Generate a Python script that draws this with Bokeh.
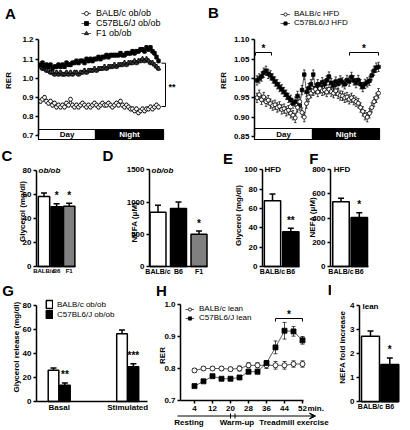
import numpy as np
from bokeh.plotting import figure
from bokeh.layouts import row, column
from bokeh.models import (Label, Legend, LegendItem, Whisker, TeeHead, ColumnDataSource,
                          FixedTicker, Range1d, Arrow, VeeHead, NumeralTickFormatter)
from bokeh.core.properties import value
from bokeh.embed import file_html
from bokeh.resources import INLINE

FONT = "Liberation Sans"

# ---------------- data ----------------
A_C57 = [1.07, 1.08, 1.06, 1.07, 1.06, 1.07, 1.05, 1.06, 1.06, 1.07,
         1.06, 1.07, 1.06, 1.08, 1.07, 1.07, 1.08, 1.08, 1.09, 1.08,
         1.09, 1.09, 1.08, 1.10, 1.09, 1.10, 1.09, 1.10, 1.10, 1.11,
         1.10, 1.11, 1.11, 1.12, 1.11, 1.12, 1.12, 1.12, 1.12, 1.12,
         1.13, 1.12, 1.12, 1.13, 1.13, 1.13, 1.14, 1.13, 1.14, 1.14,
         1.15, 1.15, 1.14, 1.16, 1.15, 1.16, 1.14, 1.13, 1.11, 1.09]
A_F1 = [1.06, 1.05, 1.05, 1.04, 1.04, 1.03, 1.03, 1.02, 1.03, 1.02,
        1.03, 1.02, 1.02, 1.03, 1.02, 1.03, 1.02, 1.03, 1.03, 1.02,
        1.03, 1.03, 1.04, 1.03, 1.04, 1.04, 1.04, 1.05, 1.04, 1.05,
        1.05, 1.05, 1.06, 1.05, 1.06, 1.06, 1.06, 1.07, 1.06, 1.07,
        1.07, 1.07, 1.08, 1.07, 1.08, 1.08, 1.08, 1.09, 1.08, 1.09,
        1.09, 1.10, 1.09, 1.10, 1.09, 1.08, 1.08, 1.07, 1.06, 1.05]
A_BALB = [0.88, 0.89, 0.90, 0.88, 0.87, 0.88, 0.86, 0.87, 0.85, 0.86,
          0.85, 0.86, 0.85, 0.87, 0.86, 0.89, 0.86, 0.85, 0.86, 0.85,
          0.86, 0.87, 0.86, 0.85, 0.86, 0.85, 0.86, 0.87, 0.86, 0.85,
          0.86, 0.87, 0.86, 0.86, 0.87, 0.86, 0.85, 0.86, 0.87, 0.86,
          0.88, 0.86, 0.85, 0.86, 0.85, 0.84, 0.84, 0.83, 0.84, 0.82,
          0.83, 0.84, 0.83, 0.84, 0.84, 0.85, 0.84, 0.85, 0.86, 0.85]
A_ERR = 0.01
A_DAY_END = 11.4
A_HOURS = 25.0
A_YTICKS = [0.7, 0.8, 0.9, 1.0, 1.1, 1.2]

B_C57 = [0.995, 1.000, 1.005, 1.015, 1.020, 1.012, 1.008, 1.000, 0.992, 0.985,
         0.978, 0.972, 0.965, 0.958, 0.950, 0.945, 0.935, 0.940, 0.955, 0.930,
         0.970, 1.010, 0.965, 0.975, 0.985, 1.010, 0.975, 0.985, 0.978, 0.990,
         0.985, 0.995, 1.005, 0.988, 0.982, 0.992, 0.986, 0.995, 0.990, 0.985,
         0.996, 0.992, 1.004, 0.995, 0.988, 0.996, 0.985, 0.978, 0.986, 0.990,
         0.994, 1.008, 1.020, 1.028, 1.030]
B_BALB = [0.950, 0.958, 0.945, 0.952, 0.940, 0.944, 0.935, 0.930, 0.932, 0.925,
          0.928, 0.920, 0.922, 0.915, 0.918, 0.910, 0.905, 0.898, 0.925, 0.940,
          0.912, 0.900, 0.935, 0.952, 0.962, 0.968, 0.972, 0.965, 0.974, 0.968,
          0.970, 0.965, 0.972, 0.966, 0.962, 0.968, 0.960, 0.956, 0.955, 0.950,
          0.952, 0.946, 0.950, 0.944, 0.940, 0.936, 0.925, 0.915, 0.905, 0.900,
          0.910, 0.925, 0.940, 0.950, 0.962]
B_ERR = 0.012
B_DAY_END = 11.6
B_HOURS = 25.0
B_SIG = [(0.2, 3.4), (19.0, 24.8)]
B_YTICKS = [0.85, 0.90, 0.95, 1.00, 1.05, 1.10]

CAT3 = ["BALB/c", "B6", "F1"]
CAT2 = ["BALB/c", "B6"]
C_VALS = [58, 49.5, 50]
C_ERR = [3, 2.5, 2.5]
C_SIG = ["", "*", "*"]
D_VALS = [840, 900, 500]
D_ERR = [110, 100, 50]
D_SIG = ["", "", "*"]
E_VALS = [68, 36]
E_ERR = [7, 3.5]
E_SIG = ["", "**"]
F_VALS = [535, 405]
F_ERR = [30, 40]
F_SIG = ["", "*"]

G_GROUPS = ["Basal", "Stimulated"]
G_BALB = [26, 56.5]
G_BALB_ERR = [2, 3]
G_C57 = [13.5, 29]
G_C57_ERR = [2, 2.5]
G_SIG = ["**", "***"]

H_MIN = [4, 8, 12, 16, 20, 24, 28, 32, 36, 40, 44, 48, 52]
H_BALB = [0.794, 0.800, 0.800, 0.800, 0.798, 0.800, 0.810, 0.810, 0.810, 0.810, 0.810, 0.814, 0.814]
H_BALB_ERR = [0.006, 0.006, 0.006, 0.006, 0.006, 0.008, 0.008, 0.008, 0.010, 0.012, 0.012, 0.010, 0.010]
H_C57 = [0.745, 0.760, 0.776, 0.768, 0.768, 0.772, 0.790, 0.790, 0.817, 0.866, 0.918, 0.916, 0.888]
H_C57_ERR = [0.004, 0.004, 0.004, 0.004, 0.004, 0.004, 0.006, 0.006, 0.008, 0.020, 0.026, 0.015, 0.012]
H_XTICKS = [4, 12, 20, 28, 36, 44, 52]
H_SIG = (40, 52)
H_WARMUP = [20, 22]

I_VALS = [2.72, 1.55]
I_ERR = [0.22, 0.27]
I_SIG = ["", "*"]


# ---------------- helpers ----------------
def style_axis(ax, tick_out=3, size=8):
    ax.axis_line_width = 1.5
    ax.axis_line_color = "black"
    ax.major_tick_line_width = 1.5
    ax.major_tick_line_color = "black"
    ax.major_tick_out = tick_out
    ax.major_tick_in = 0
    ax.minor_tick_line_color = None
    ax.minor_tick_out = 0
    ax.minor_tick_in = 0
    ax.major_label_text_font = FONT
    ax.major_label_text_font_style = "bold"
    ax.major_label_text_font_size = f"{size}px"
    ax.major_label_text_color = "black"
    ax.major_label_standoff = 2


class Panel:
    """One panel; canvas = (left, top, right, bottom) in reference pixels.
    xmap / ymap tie two data values to reference pixel positions."""

    def __init__(self, canvas, xmap, ymap):
        cl, ct, cr, cb = canvas
        (xv0, xp0), (xv1, xp1) = xmap
        (yv0, yp0), (yv1, yp1) = ymap
        self.fx = lambda px: xv0 + (px - xp0) * (xv1 - xv0) / (xp1 - xp0)
        self.fy = lambda py: yv0 + (py - yp0) * (yv1 - yv0) / (yp1 - yp0)
        self.upp = abs((yv1 - yv0) / (yp1 - yp0))
        self.canvas = canvas
        p = figure(width=cr - cl, height=cb - ct,
                   x_range=Range1d(self.fx(cl), self.fx(cr)),
                   y_range=Range1d(self.fy(cb), self.fy(ct)),
                   x_axis_location="below", y_axis_location="left",
                   min_border=0, toolbar_location=None, output_backend="svg")
        p.outline_line_color = None
        p.xgrid.visible = False
        p.ygrid.visible = False
        p.background_fill_color = "white"
        p.border_fill_color = "white"
        self.p = p

    def hide_xaxis(self):
        ax = self.p.xaxis[0]
        ax.fixed_location = self.fy(self.canvas[3])
        ax.visible = False

    def label(self, px, py, text, size=8, style="bold", align="center",
              baseline="middle", angle=0.0, color="black"):
        self.p.add_layout(Label(x=self.fx(px), y=self.fy(py), text=text, text_font=FONT,
                                text_font_size=f"{size}px", text_font_style=style,
                                text_align=align, text_baseline=baseline, angle=angle,
                                text_color=color))

    def legend(self, items, left_px, top_px, row_h, glyph_w, standoff, size=8):
        cl, ct, cr, cb = self.canvas
        n = len(items)
        lg = Legend(items=[LegendItem(label=value(t), renderers=r) for t, r in items],
                    location=(left_px - cl, cb - (top_px + n * row_h)),
                    orientation="vertical", padding=0, margin=0, spacing=0,
                    glyph_width=glyph_w, glyph_height=row_h, label_height=row_h,
                    label_width=10, label_standoff=standoff,
                    border_line_color=None, background_fill_alpha=0,
                    label_text_font=FONT, label_text_font_size=f"{size}px",
                    label_text_color="black")
        self.p.add_layout(lg)

    def y_axis(self, ticks, bounds, at_px, fmt=None, size=8):
        ax = self.p.yaxis[0]
        style_axis(ax, size=size)
        ax.ticker = FixedTicker(ticks=ticks)
        ax.bounds = bounds
        ax.fixed_location = self.fx(at_px)
        if fmt:
            ax.formatter = NumeralTickFormatter(format=fmt)

    def cat_axis(self, ticks, labels, left_px, right_px, at_px, size=7):
        ax = self.p.xaxis[0]
        style_axis(ax, tick_out=0, size=size)
        ax.major_tick_line_color = None
        ax.ticker = FixedTicker(ticks=ticks)
        ax.major_label_overrides = {t: l for t, l in zip(ticks, labels)}
        ax.major_label_standoff = 1
        ax.bounds = (self.fx(left_px), self.fx(right_px))
        ax.fixed_location = self.fy(at_px)

    def stars(self, xs, tops, marks, gap_px=8, size=10):
        ys = [t + gap_px * self.upp for t in tops]
        self.p.text(x=xs, y=ys, text=marks, text_font=value(FONT), text_font_size=value(f"{size}px"),
                    text_font_style="bold", text_align="center", text_baseline="middle",
                    text_color="black")


def series(P, t, vals, err, marker, fill, size, head):
    v = np.array(vals, dtype=float)
    e = np.array(err, dtype=float) if np.ndim(err) else np.full(len(v), err)
    src = ColumnDataSource(dict(x=list(t), lo=list(v - e), hi=list(v + e)))
    P.p.add_layout(Whisker(source=src, base="x", lower="lo", upper="hi", line_color="black",
                           line_width=0.7,
                           upper_head=TeeHead(size=head, line_width=0.7, line_color="black"),
                           lower_head=TeeHead(size=head, line_width=0.7, line_color="black")))
    ln = P.p.line(list(t), list(v), line_color="#333333", line_width=0.8)
    sc = P.p.scatter(list(t), list(v), marker=marker, size=size, fill_color=fill,
                     line_color="black", line_width=0.8)
    return [ln, sc]


def bars(P, xs, vals, errs, fills, width):
    r = P.p.vbar(x=xs, top=vals, bottom=0, width=width, fill_color=fills,
                 line_color="black", line_width=1.5)
    src = ColumnDataSource(dict(x=list(xs), lo=list(vals), hi=[v + e for v, e in zip(vals, errs)]))
    P.p.add_layout(Whisker(source=src, base="x", lower="lo", upper="hi", line_color="black",
                           line_width=1.5,
                           upper_head=TeeHead(size=6, line_width=1.5, line_color="black"),
                           lower_head=None))
    return r


def daynight(P, day_end, total, top_px, bot_px):
    b, t = P.fy(bot_px), P.fy(top_px)
    P.p.quad(left=[0, day_end], right=[day_end, total], bottom=b, top=t,
             fill_color=["white", "black"], line_color="black", line_width=1.2)
    P.p.text(x=[day_end / 2, (day_end + total) / 2], y=(b + t) / 2, text=["Day", "Night"],
             text_color=["black", "white"], text_font=value(FONT), text_font_size=value("8px"),
             text_font_style="bold", text_align="center", text_baseline="middle")


ROT = np.pi / 2
WHITE, BLACK, GRAY = "white", "black", "#808080"

# ---------------- A ----------------
A = Panel((0, 0, 205, 140), ((0, 38), (25, 163)), ((1.2, 39.3), (0.7, 135.3)))
A.hide_xaxis()
A.y_axis(A_YTICKS, (0.7, 1.2), 38, "0.0")
tA = np.linspace(0.4, 24.0, len(A_C57))
rF1 = series(A, tA, A_F1, A_ERR, "triangle", "#444444", 4.5, 2.5)
rC57 = series(A, tA, A_C57, A_ERR, "square", "black", 3.5, 2.5)
rBALB = series(A, tA, A_BALB, A_ERR, "circle", "white", 4, 2.5)
daynight(A, A_DAY_END, A_HOURS, 129, 139)
xb0, xb1 = A.fx(161), A.fx(165)
A.p.line([xb0, xb1, xb1, xb0], [A.fy(62.7), A.fy(62.7), A.fy(106), A.fy(106)], line_color="black", line_width=1)
A.label(171.5, 86, "**", 9)
A.legend([("BALB/c ob/ob", rBALB), ("C57BL6/J ob/ob", rC57), ("F1 ob/ob", rF1)], 81, 8, 10, 10, 5, 9)
A.label(10, 12.5, "A", 15)
A.label(8, 80, "RER", 8, angle=ROT)

# ---------------- B ----------------
B = Panel((205, 0, 410, 140), ((0, 254), (25, 379)), ((1.10, 39.3), (0.85, 136)))
B.hide_xaxis()
B.y_axis(B_YTICKS, (0.85, 1.10), 254, "0.00")
tB = np.linspace(0.5, 24.8, len(B_C57))
rBC = series(B, tB, B_C57, B_ERR, "square", "black", 3.5, 2.5)
rBB = series(B, tB, B_BALB, B_ERR, "circle", "white", 4, 2.5)
daynight(B, B_DAY_END, B_HOURS, 128, 139)
yb = B.fy(52)
yb2 = B.fy(55)
for s0, s1 in B_SIG:
    B.p.line([s0, s0, s1, s1], [yb2, yb, yb, yb2], line_color="black", line_width=1)
    B.p.text(x=[(s0 + s1) / 2], y=[B.fy(48)], text=["*"], text_font=value(FONT),
             text_font_size=value("10px"), text_font_style="bold", text_align="center",
             text_baseline="middle")
B.legend([("BALB/c HFD", rBB), ("C57BL6/J HFD", rBC)], 280, 11, 8, 10, 4, 8)
B.label(213, 11.5, "B", 15)
B.label(223, 80, "RER", 8, angle=ROT)

# ---------------- C ----------------
C = Panel((0, 140, 100, 278), ((1, 43.5), (2, 56.1)), ((0, 266), (80, 169.5)))
C.y_axis([0, 20, 40, 60, 80], (0, 80), 36)
xc = [1, 2, 3]
bars(C, xc, C_VALS, C_ERR, [WHITE, BLACK, GRAY], 0.9)
C.cat_axis(xc, CAT3, 36, 75, 266, 6)
C.stars(xc, [v + e for v, e in zip(C_VALS, C_ERR)], C_SIG)
C.label(38, 169.5, "ob/ob", 8, style="bold italic", align="left")
C.label(6.3, 155.3, "C", 15)
C.label(21.7, 211, "Glycerol (mg/dl)", 8, angle=ROT)

# ---------------- D ----------------
D = Panel((100, 140, 208, 278), ((1, 157.5), (2, 178.0)), ((0, 266), (1500, 169.3)))
D.y_axis([0, 500, 1000, 1500], (0, 1500), 149)
bars(D, xc, D_VALS, D_ERR, [WHITE, BLACK, GRAY], 0.78)
D.cat_axis(xc, CAT3, 149, 207, 266, 7)
D.stars(xc, [v + e for v, e in zip(D_VALS, D_ERR)], D_SIG)
D.label(151, 169.5, "ob/ob", 8, style="bold italic", align="left")
D.label(107.5, 155.3, "D", 15)
D.label(134, 221.7, "NEFA (\u03bcM)", 8, angle=ROT)

# ---------------- E ----------------
E = Panel((208, 140, 302, 278), ((1, 272), (2, 290.3)), ((0, 266), (100, 169.3)))
E.y_axis([0, 20, 40, 60, 80, 100], (0, 100), 262)
x2 = [1, 2]
bars(E, x2, E_VALS, E_ERR, [WHITE, BLACK], 0.89)
E.cat_axis(x2, CAT2, 262, 299.3, 266, 7)
E.stars(x2, [v + e for v, e in zip(E_VALS, E_ERR)], E_SIG)
E.label(264, 169.3, "HFD", 8, align="left")
E.label(227.5, 158.3, "E", 15)
E.label(238.3, 215, "Glycerol (mg/dl)", 8, angle=ROT)

# ---------------- F ----------------
F = Panel((302, 140, 410, 278), ((1, 340.5), (2, 358.8)), ((0, 266), (800, 169.3)))
F.y_axis([0, 200, 400, 600, 800], (0, 800), 330)
bars(F, x2, F_VALS, F_ERR, [WHITE, BLACK], 0.9)
F.cat_axis(x2, CAT2, 330, 368.3, 266, 7)
F.stars(x2, [v + e for v, e in zip(F_VALS, F_ERR)], F_SIG)
F.label(333.3, 169.3, "HFD", 8, align="left")
F.label(313.3, 158.3, "F", 15)
F.label(312.3, 216.7, "NEFA (\u03bcM)", 8, angle=ROT)

# ---------------- G ----------------
G = Panel((0, 278, 152, 430), ((1, 58.7), (2, 127.2)), ((0, 401), (80, 305)))
G.y_axis([0, 20, 40, 60, 80], (0, 80), 36)
gx = [1, 2]
off = 0.083
xg_b = [g - off for g in gx]
xg_c = [g + off for g in gx]
rgb = bars(G, xg_b, G_BALB, G_BALB_ERR, WHITE, 0.155)
rgc = bars(G, xg_c, G_C57, G_C57_ERR, BLACK, 0.155)
G.cat_axis(gx, G_GROUPS, 36, 147, 401, 8)
G.stars(xg_c, [v + e for v, e in zip(G_C57, G_C57_ERR)], G_SIG)
G.legend([("BALB/c ob/ob", [rgb]), ("C57BL6/J ob/ob", [rgc])], 45, 299, 10, 8, 4, 8)
G.label(7.5, 290, "G", 15)
G.label(16, 346.7, "Glycerol release (mg/dl)", 8, angle=ROT)

# ---------------- H ----------------
H = Panel((152, 278, 331, 430), ((4, 194), (52, 302)), ((0.7, 400), (1.0, 304)))
H.y_axis([0.7, 0.8, 0.9, 1.0], (0.7, 1.0), 180, "0.0")
hx = H.p.xaxis[0]
style_axis(hx)
hx.ticker = FixedTicker(ticks=H_XTICKS)
hx.bounds = (H.fx(180), H.fx(303))
hx.fixed_location = 0.7
rHB = series(H, H_MIN, H_BALB, H_BALB_ERR, "circle", "white", 5, 4)
rHC = series(H, H_MIN, H_C57, H_C57_ERR, "square", "black", 5, 4)
hy, hy2 = H.fy(318), H.fy(321)
H.p.line([H_SIG[0], H_SIG[0], H_SIG[1], H_SIG[1]], [hy2, hy, hy, hy2], line_color="black", line_width=1)
H.p.text(x=[(H_SIG[0] + H_SIG[1]) / 2], y=[H.fy(314)], text=["*"], text_font=value(FONT),
         text_font_size=value("10px"), text_font_style="bold", text_align="center",
         text_baseline="middle")
H.legend([("BALB/c lean", rHB), ("C57BL6/J lean", rHC)], 185, 306, 8, 9, 5, 8)
H.label(307, 407.5, "min.", 8, align="left")
H.label(160.8, 290, "H", 15)
H.label(329.3, 289, "I", 15)
H.label(162, 355, "RER", 8, angle=ROT)
H.p.add_layout(Arrow(x_start=H.fx(177), y_start=H.fy(415.5), x_end=H.fx(315), y_end=H.fy(415.5),
                     line_width=1, line_color="black",
                     end=VeeHead(size=6, line_width=1, line_color="black")))
H.p.segment(x0=H_WARMUP, x1=H_WARMUP, y0=H.fy(413), y1=H.fy(418), line_color="black", line_width=1)
H.label(188.5, 422, "Resting", 8)
H.label(236.5, 422, "Warm-up", 8)
H.label(293.5, 422, "Treadmill exercise", 8)

# ---------------- I ----------------
I = Panel((331, 278, 410, 430), ((1, 370), (2, 389.3)), ((0, 401.3), (4, 305)))
I.y_axis([0, 1, 2, 3, 4], (0, 4), 359)
bars(I, x2, I_VALS, I_ERR, [WHITE, BLACK], 0.93)
I.cat_axis(x2, CAT2, 359, 398.3, 401.3, 7)
I.stars(x2, [v + e for v, e in zip(I_VALS, I_ERR)], I_SIG)
I.label(362, 306, "lean", 8, align="left")
I.label(342, 346.7, "NEFA fold increase", 8, angle=ROT)

layout = column(
    row(A.p, B.p, spacing=0),
    row(C.p, D.p, E.p, F.p, spacing=0),
    row(G.p, H.p, I.p, spacing=0),
    spacing=0,
)

open("out.html", "w").write(file_html(layout, INLINE, title="RER, glycerol and NEFA"))
